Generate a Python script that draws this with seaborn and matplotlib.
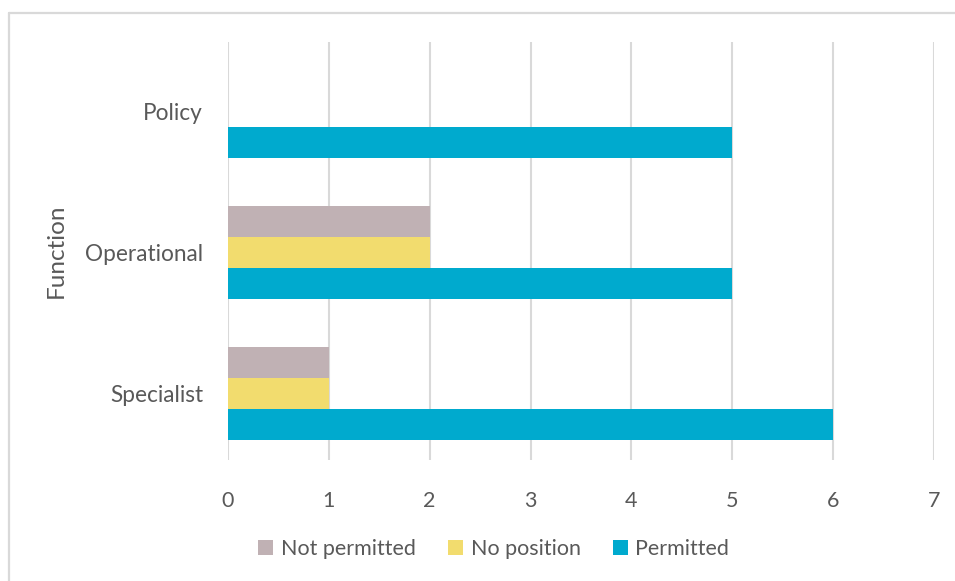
import matplotlib
matplotlib.use("Agg")
import matplotlib.pyplot as plt
from matplotlib.lines import Line2D
import seaborn as sns
import pandas as pd

functions = ["Policy", "Operational", "Specialist"]
series = ["Not permitted", "No position", "Permitted"]
not_permitted = [0, 2, 1]
no_position = [0, 2, 1]
permitted = [5, 5, 6]
x_ticks = [0, 1, 2, 3, 4, 5, 6, 7]

colors = {"Not permitted": "#C0B1B4", "No position": "#F2DC6E", "Permitted": "#00AACE"}
text_color = "#595959"
grid_color = "#D9D9D9"

rows = []
for values, name in zip([not_permitted, no_position, permitted], series):
    for f, v in zip(functions, values):
        rows.append({"Function": f, "Series": name, "Count": v})
df = pd.DataFrame(rows)

sns.set_theme(style="white")
plt.rcParams["font.family"] = ["Lato", "DejaVu Sans"]

fig = plt.figure(figsize=(9.55, 5.81), dpi=100)
ax = fig.add_axes([0.2387, 0.2083, 0.7393, 0.7194])

sns.barplot(data=df, x="Count", y="Function", hue="Series",
            order=functions, hue_order=series, palette=colors,
            saturation=1, width=0.66, orient="h", ax=ax, legend=True,
            linewidth=0)

ax.set_xlim(0, 7)
ax.set_ylim(2.47, -0.49)
ax.set_xticks(x_ticks)
ax.xaxis.grid(True, color=grid_color, linewidth=1.5)
ax.yaxis.grid(False)
ax.set_axisbelow(True)
for s in ax.spines.values():
    s.set_visible(False)

ax.tick_params(axis="x", length=0, pad=22, labelsize=15.5, labelcolor=text_color)
ax.tick_params(axis="y", length=0, pad=18, labelsize=16.3, labelcolor=text_color)
ax.set_xlabel("")
ax.set_ylabel("Function", fontsize=17.5, color=text_color, labelpad=13)

handles, labels = ax.get_legend_handles_labels()
ax.get_legend().remove()
fig.legend(handles, labels, loc="center", bbox_to_anchor=(0.517, 0.055),
           ncol=3, frameon=False, fontsize=15.5, labelcolor=text_color,
           handlelength=0.7, handleheight=0.7, handletextpad=0.35,
           columnspacing=1.5)

# light frame along the top and left edges
fig.add_artist(Line2D([0.0094, 0.9995], [0.978, 0.978], transform=fig.transFigure,
                      color=grid_color, linewidth=1.6))
fig.add_artist(Line2D([0.0094, 0.0094], [0.0, 0.978], transform=fig.transFigure,
                      color=grid_color, linewidth=1.6))

fig.savefig("out.png", dpi=100)
